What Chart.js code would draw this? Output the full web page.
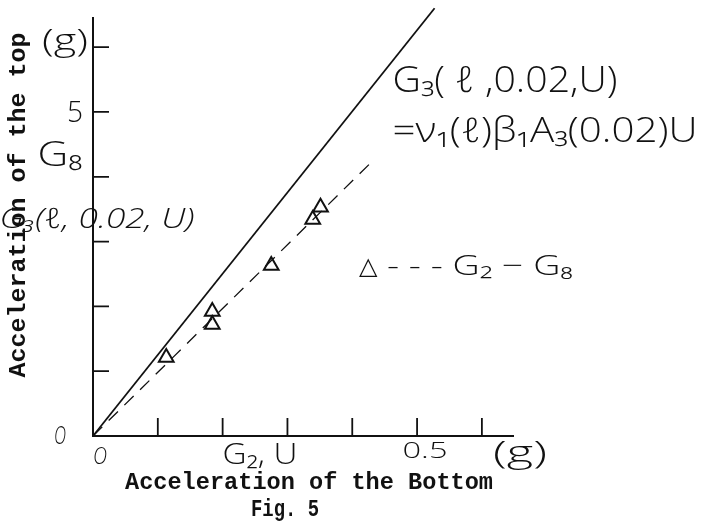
<!DOCTYPE html>
<html>
<head>
<meta charset="utf-8">
<title>Fig. 5</title>
<script src="https://cdn.jsdelivr.net/npm/chart.js@4.4.1/dist/chart.umd.min.js"></script>
<style>
  body { margin: 0; background: #fff; }
  canvas { display: block; }
</style>
</head>
<body>
<canvas id="chart" width="701" height="526"></canvas>
<script>
// Data
const obsX = [0.113, 0.184, 0.184, 0.275, 0.339, 0.351];
const obsY = [1.21, 1.92, 1.72, 2.63, 3.34, 3.53];
const theoryX = [0, 0.527];
const theoryY = [0, 6.6];
const fitX = [0, 0.431];
const fitY = [0, 4.24];
const xTicks = [0.1, 0.2, 0.3, 0.4, 0.5, 0.6];
const yTicks = [1, 2, 3, 4, 5, 6];

const toPoints = (xs, ys) => xs.map((x, i) => ({ x: x, y: ys[i] }));

const ink = "#111";
const hand = '300 {s}px "Open Sans", "DejaVu Sans", sans-serif';
const handItalic = 'italic 300 {s}px "Open Sans", "DejaVu Sans", sans-serif';
const typed = 'bold {s}px "Liberation Mono", "Courier New", monospace';

// Handwritten / typed notes: text, centre x, centre y, width, font size, font
const notes = [
  ["(g)", 65, 42, 46, 32, hand],
  ["5", 75, 113, 16, 30, hand],
  ["G\u2088", 60, 156, 45, 34, hand],
  ["G\u2083(\u2113, 0.02, U)", 97, 220, 195, 28, handItalic],
  ["G\u2083( \u2113 ,0.02,U)", 505, 82, 225, 36, hand],
  ["=\u03bd\u2081(\u2113)\u03b2\u2081A\u2083(0.02)U", 545, 132, 305, 34, hand],
  ["\u25b3", 368, 267, 18, 24, hand],
  ["- - - G\u2082 \u2212 G\u2088", 480, 267, 186, 28, hand],
  ["O", 60, 437, 12, 26, handItalic],
  ["O", 100, 457, 14, 24, handItalic],
  ["G\u2082, U", 260, 455, 75, 30, hand],
  ["0.5", 425, 452, 45, 22, hand],
  ["(g)", 520, 454, 54, 32, hand],
  ["Acceleration of the Bottom", 309, 483, 368, 23, typed],
  ["Fig. 5", 285, 510, 68, 24, typed],
];

// Draw text squeezed to a given width
const drawFit = (ctx, text, cx, cy, w, size, font, rot) => {
  ctx.save();
  ctx.font = font.replace("{s}", size);
  ctx.fillStyle = ink;
  ctx.textAlign = "center";
  ctx.textBaseline = "middle";
  ctx.translate(cx, cy);
  if (rot) ctx.rotate(rot);
  const w0 = ctx.measureText(text).width;
  ctx.scale(w / w0, 1);
  ctx.fillText(text, 0, 0);
  ctx.restore();
};

// Inward tick marks on both axes
const tickMarks = {
  id: "tickMarks",
  beforeDatasetsDraw(chart) {
    const { ctx, scales } = chart;
    const x0 = scales.x.getPixelForValue(0);
    const y0 = scales.y.getPixelForValue(0);
    ctx.save();
    ctx.strokeStyle = ink;
    ctx.lineWidth = 1.8;
    ctx.beginPath();
    xTicks.forEach((v) => {
      const px = scales.x.getPixelForValue(v);
      ctx.moveTo(px, y0);
      ctx.lineTo(px, y0 - 18);
    });
    yTicks.forEach((v) => {
      const py = scales.y.getPixelForValue(v);
      ctx.moveTo(x0, py);
      ctx.lineTo(x0 + 16, py);
    });
    ctx.stroke();
    ctx.restore();
  },
};

const labels = {
  id: "labels",
  afterDraw(chart) {
    const ctx = chart.ctx;
    notes.forEach((n) => drawFit(ctx, n[0], n[1], n[2], n[3], n[4], n[5]));
    drawFit(ctx, "Acceleration of the top", 19, 205, 345, 23, typed, -Math.PI / 2);
  },
};

const config = {
  type: "scatter",
  data: {
    datasets: [
      {
        label: "G2 - G8",
        data: toPoints(obsX, obsY),
        pointStyle: "triangle",
        pointRadius: 8.5,
        pointBorderWidth: 2,
        borderColor: ink,
        backgroundColor: "rgba(255,255,255,0)",
        order: 0,
      },
      {
        label: "G3(l,0.02,U)",
        data: toPoints(theoryX, theoryY),
        showLine: true,
        borderColor: ink,
        borderWidth: 1.8,
        pointRadius: 0,
        clip: false,
        order: 1,
      },
      {
        label: "fit",
        data: toPoints(fitX, fitY),
        showLine: true,
        borderColor: ink,
        borderWidth: 1.3,
        borderDash: [13, 9],
        pointRadius: 0,
        clip: false,
        order: 1,
      },
    ],
  },
  options: {
    responsive: false,
    animation: false,
    devicePixelRatio: 1,
    layout: { padding: { left: 93, right: 188, top: 18, bottom: 90 } },
    plugins: { legend: { display: false }, tooltip: { enabled: false } },
    scales: {
      x: {
        type: "linear",
        min: 0,
        max: 0.648,
        grid: { display: false, drawTicks: false },
        ticks: { display: false },
        border: { display: true, color: ink, width: 2 },
      },
      y: {
        type: "linear",
        min: 0,
        max: 6.45,
        grid: { display: false, drawTicks: false },
        ticks: { display: false },
        border: { display: true, color: ink, width: 2 },
      },
    },
  },
  plugins: [tickMarks, labels],
};

new Chart(document.querySelector("#chart"), config);
</script>
</body>
</html>
